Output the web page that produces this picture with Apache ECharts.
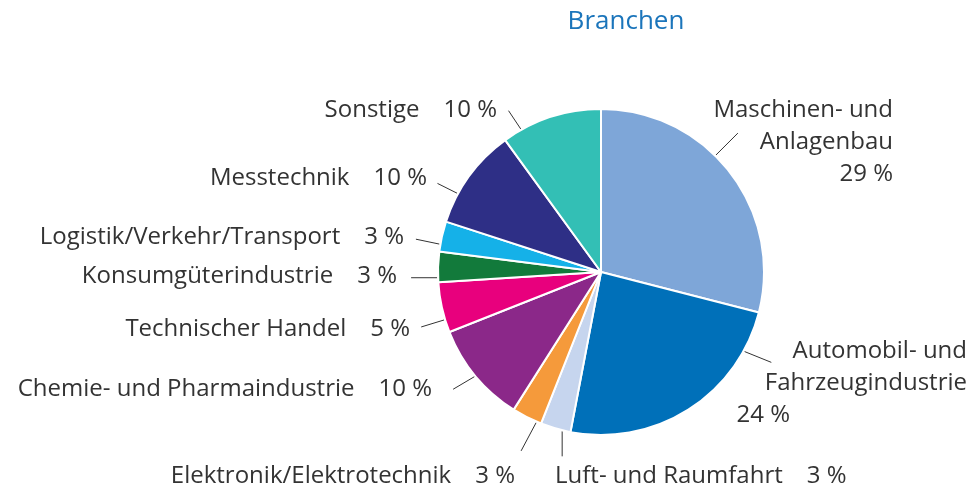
<!DOCTYPE html>
<html>
<head>
<meta charset="utf-8">
<script src="https://cdn.jsdelivr.net/npm/echarts@6/dist/echarts.min.js"></script>
<style>
  html, body { margin: 0; padding: 0; background: #fff; }
  #chart { width: 971px; height: 493px; }
</style>
</head>
<body>
<div id="chart"></div>
<script>
// Branchen (Anteile in %), im Uhrzeigersinn ab 12 Uhr
const branchen = [
  'Maschinen- und\nAnlagenbau',
  'Automobil- und\nFahrzeugindustrie',
  'Luft- und Raumfahrt',
  'Elektronik/Elektrotechnik',
  'Chemie- und Pharmaindustrie',
  'Technischer Handel',
  'Konsumgüterindustrie',
  'Logistik/Verkehr/Transport',
  'Messtechnik',
  'Sonstige'
]
const anteile = [29, 24, 3, 3, 10, 5, 3, 3, 10, 10]
const farben = ['#7ea6d8', '#0070b9', '#c6d5ee', '#f59a3b', '#8b2889', '#e8007d', '#127a3b', '#15b1e8', '#2e2f86', '#33bfb5']

// Label-Positionen (Textkante, Ausrichtung)
const labelPos = [
  { x: 893, y: 142, align: 'right' },
  { x: 967, y: 383, align: 'right' },
  { x: 555, y: 476, align: 'left' },
  { x: 515, y: 476, align: 'right' },
  { x: 432, y: 389, align: 'right' },
  { x: 410, y: 329, align: 'right' },
  { x: 397, y: 276, align: 'right' },
  { x: 404, y: 237, align: 'right' },
  { x: 427, y: 178, align: 'right' },
  { x: 497, y: 110, align: 'right' }
]
// Führungslinien: Ansatzwinkel am Kreis, Richtung, Länge (Grad ab 12 Uhr, im Uhrzeigersinn)
const guides = [
  { at: 44.5, dir: 45, len: 31 },
  { at: 119, dir: 112, len: 29 },
  { at: 193.7, dir: 180, len: 25 },
  { at: 203.3, dir: 208, len: 32 },
  { at: 230.4, dir: 239.4, len: 25 },
  { at: 253, dir: 253, len: 24 },
  { at: 268, dir: 270, len: 26 },
  { at: 279.8, dir: 281.8, len: 24 },
  { at: 298.7, dir: 296.6, len: 22 },
  { at: 330.7, dir: 326.3, len: 22 }
]

const cx = 601, cy = 272, r = 163
const gap = '\u2002\u2002'

function polar(x, y, deg, len) {
  const a = deg * Math.PI / 180
  return [x + len * Math.sin(a), y - len * Math.cos(a)]
}

const chart = echarts.init(document.getElementById('chart'))

const option = {
  animation: false,
  title: {
    text: 'Branchen',
    left: 621,
    top: 4,
    textAlign: 'center',
    textStyle: { color: '#1b75bb', fontSize: 26, fontWeight: 'normal', fontFamily: 'Open Sans' }
  },
  series: [{
    type: 'pie',
    center: [cx, cy],
    radius: [0, r],
    startAngle: 90,
    clockwise: true,
    avoidLabelOverlap: false,
    itemStyle: { borderColor: '#fff', borderWidth: 2 },
    label: {
      show: true,
      position: 'outside',
      color: '#333',
      fontSize: 24,
      fontFamily: 'Open Sans',
      lineHeight: 32,
      formatter: function (p) {
        if (p.dataIndex === 0) return p.name + '\n' + p.value + ' %'
        if (p.dataIndex === 1) return p.name + '\n{p|' + p.value + ' %}'
        return p.name + gap + p.value + ' %'
      },
      rich: {
        p: { fontSize: 24, fontFamily: 'Open Sans', color: '#333', lineHeight: 32, padding: [0, 177, 0, 0] }
      }
    },
    labelLine: {
      show: true,
      lineStyle: { color: '#333', width: 1 }
    },
    labelLayout: function (params) {
      const i = params.dataIndex
      const lp = labelPos[i]
      const g = guides[i]
      const p0 = polar(cx, cy, g.at, r + 1)
      const p1 = polar(p0[0], p0[1], g.dir, g.len)
      return {
        x: lp.x, y: lp.y, align: lp.align, verticalAlign: 'middle',
        labelLinePoints: [p0, p1, p1]
      }
    },
    data: branchen.map((name, i) => ({ name: name, value: anteile[i], itemStyle: { color: farben[i] } }))
  }]
}

chart.setOption(option)
</script>
</body>
</html>
